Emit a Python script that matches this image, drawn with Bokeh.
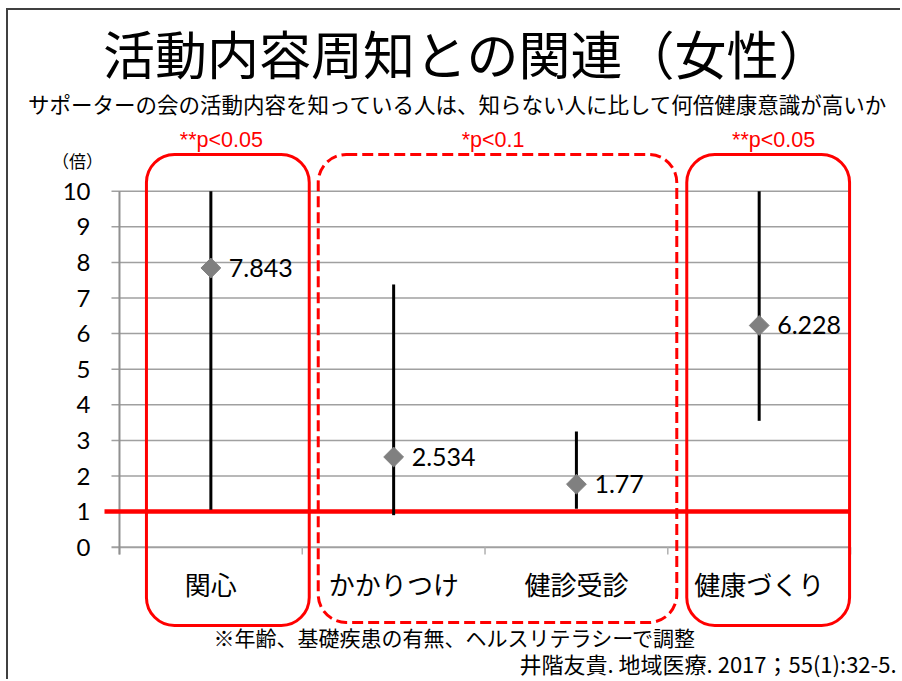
from bokeh.plotting import figure
from bokeh.models import Range1d, LinearAxis, FixedTicker, BoxAnnotation, Label, ColumnDataSource
from bokeh.embed import file_html
from bokeh.resources import INLINE
from bokeh.core.properties import value

# ---------------- data ----------------
categories = ["関心", "かかりつけ", "健診受診", "健康づくり"]
odds_ratio = [7.843, 2.534, 1.77, 6.228]
ci_lower = [1.05, 0.90, 1.08, 3.55]
ci_upper = [10.0, 7.38, 3.25, 10.0]
ratio_labels = ["7.843", "2.534", "1.77", "6.228"]
y_ticks = [0, 1, 2, 3, 4, 5, 6, 7, 8, 9, 10]
reference_value = 1
significance = ["**p<0.05", "*p<0.1", "**p<0.05"]

title_text = "活動内容周知との関連（女性）"
subtitle_text = "サポーターの会の活動内容を知っている人は、知らない人に比して何倍健康意識が高いか"
unit_text = "（倍）"
note_text = "※年齢、基礎疾患の有無、ヘルスリテラシーで調整"
cite_text = "井階友貴. 地域医療. 2017；55(1):32-5."

# ---------------- layout (reference pixel geometry) ----------------
X0, XS = 118.0, 183.0      # px of x=0, px per category
Y0, YS = 546.7, 35.6       # px of y=0, px per unit
OX, OY = 8, 10             # canvas origin in page px
W, H = 894, 671
FRAME_LEFT = 103
FRAME_TOP = 118

def dx(px):
    return (px - X0) / XS

def dy(py):
    return (Y0 - py) / YS

JP = "Noto Sans CJK JP"
NUM = "Lato"
RED = "#ff0000"
GRID = "#a0a0a0"

p = figure(width=W, height=H,
           x_range=Range1d(dx(FRAME_LEFT), dx(OX + W)),
           y_range=Range1d(dy(OY + H), dy(FRAME_TOP)),
           x_axis_type=None, y_axis_type=None,
           min_border_left=FRAME_LEFT - OX, min_border_right=0,
           min_border_top=FRAME_TOP - OY, min_border_bottom=0,
           output_backend="svg", toolbar_location=None)
p.outline_line_color = None
p.background_fill_color = "white"
p.border_fill_color = "white"
p.styles = {"border-left": "2px solid #404040", "border-top": "2px solid #404040",
            "margin-left": "6px", "margin-top": "8px"}

# y axis (tick labels only)
yaxis = LinearAxis(ticker=FixedTicker(ticks=y_ticks), bounds=(0, 10))
yaxis.axis_line_color = None
yaxis.major_tick_line_color = None
yaxis.minor_tick_line_color = None
yaxis.major_tick_out = 0
yaxis.major_tick_in = 0
yaxis.major_label_standoff = 14
yaxis.major_label_text_font = NUM
yaxis.major_label_text_font_size = "24px"
yaxis.major_label_text_color = "black"
p.add_layout(yaxis, "left")

n = len(categories)
centers = [i + 0.5 for i in range(n)]
bounds_x = list(range(n + 1))

# grid lines
grid_y = [t for t in y_ticks if t > 0]
p.segment(x0=[dx(110)] * len(grid_y), x1=[n] * len(grid_y), y0=grid_y, y1=grid_y,
          line_color=GRID, line_width=1.5)
# x axis line and ticks
p.segment(x0=[dx(110)], x1=[n], y0=[0], y1=[0], line_color=GRID, line_width=2)
p.segment(x0=bounds_x, x1=bounds_x, y0=[0] * len(bounds_x), y1=[dy(554)] * len(bounds_x),
          line_color="#b0b0b0", line_width=1.5)
# y axis line
p.segment(x0=[0], x1=[0], y0=[dy(554)], y1=[max(y_ticks)], line_color="#909090", line_width=2)

# reference line
p.segment(x0=[dx(95)], x1=[n], y0=[reference_value], y1=[reference_value],
          line_color=RED, line_width=4.5)

# confidence intervals
src = ColumnDataSource(dict(x=centers, est=odds_ratio, lo=ci_lower, hi=ci_upper,
                            lab=ratio_labels, cat=categories))
p.segment(x0="x", x1="x", y0="lo", y1="hi", source=src, line_color="black", line_width=3)
p.scatter(x="x", y="est", source=src, marker="square", angle=0.785398, size=14,
          fill_color="#808080", line_color="#808080")
p.text(x="x", y="est", text="lab", source=src, x_offset=18, text_baseline="middle",
       text_align="left", text_font=value(NUM), text_font_size="25px", text_color="black")

# category labels
p.text(x="x", y=dy(583), text="cat", source=src, text_align="center", text_baseline="middle",
       text_font=value(JP), text_font_size="26px", text_color="black")

# group boxes
boxes = [(145, 308, None), (317, 676, "11 5"), (686, 849, None)]
for (l, r, dash) in boxes:
    kw = dict(left=dx(l), right=dx(r), top=dy(154), bottom=dy(625),
              fill_alpha=0, fill_color=None, line_color=RED, line_alpha=1.0,
              line_width=3, border_radius=28)
    if dash:
        kw["line_dash"] = dash
        kw["bottom"] = dy(622)
    p.add_layout(BoxAnnotation(**kw))

# significance labels
sig_x = [220, 492, 773]
for sx, s in zip(sig_x, significance):
    p.add_layout(Label(x=dx(sx), y=dy(139), text=s, text_align="center",
                       text_baseline="middle", text_font="Liberation Sans",
                       text_font_size="21.5px", text_color=RED))

# texts outside the frame (placed in side panels so they are not clipped)
p.add_layout(Label(x=dx(466), y=dy(52), text=title_text, text_align="center",
                   text_baseline="middle", text_font=JP, text_font_size="52px",
                   text_color="black"), "above")
p.add_layout(Label(x=dx(457), y=dy(103), text=subtitle_text, text_align="center",
                   text_baseline="middle", text_font=JP, text_font_size="21.5px",
                   text_color="black"), "above")
p.add_layout(Label(x=dx(76), y=dy(160), text=unit_text, text_align="center",
                   text_baseline="middle", text_font=JP, text_font_size="17px",
                   text_color="black"), "left")
p.add_layout(Label(x=dx(454), y=dy(636), text=note_text, text_align="center",
                   text_baseline="middle", text_font=JP, text_font_size="21px",
                   text_color="black"))
p.add_layout(Label(x=dx(896), y=dy(662), text=cite_text, text_align="right",
                   text_baseline="middle", text_font=JP, text_font_size="22px",
                   text_color="black"))

open("out.html", "w").write(file_html(p, INLINE))
